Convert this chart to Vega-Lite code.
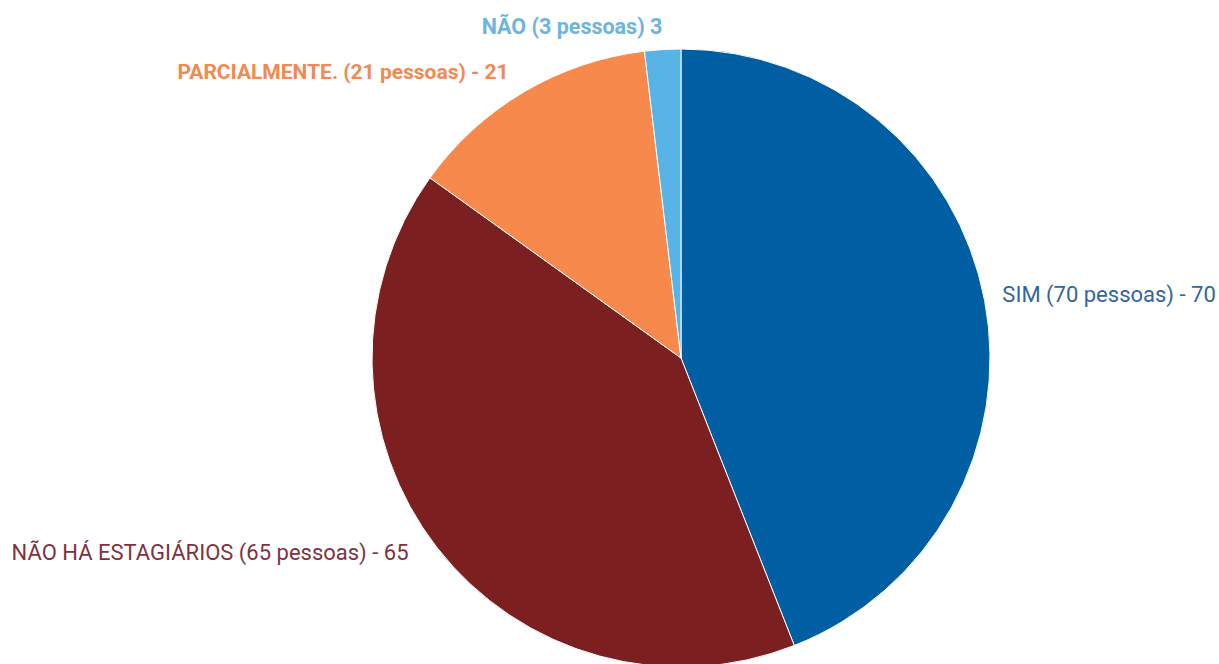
{
  "$schema": "https://vega.github.io/schema/vega-lite/v6.json",
  "width": 1076,
  "height": 716,
  "autosize": {"type": "none"},
  "padding": {"left": 143, "top": 0, "right": 0, "bottom": 0},
  "background": "white",
  "config": {"view": {"stroke": null}, "text": {"font": "Roboto", "fontSize": 22}},
  "data": {"values": [
    {"cat": "SIM", "label": "SIM (70 pessoas) - 70", "value": 70, "ord": 1},
    {"cat": "NÃO HÁ ESTAGIÁRIOS", "label": "NÃO HÁ ESTAGIÁRIOS (65 pessoas) - 65", "value": 65, "ord": 2},
    {"cat": "PARCIALMENTE.", "label": "PARCIALMENTE. (21 pessoas) - 21", "value": 21, "ord": 3},
    {"cat": "NÃO", "label": "NÃO (3 pessoas) 3", "value": 3, "ord": 4}
  ]},
  "encoding": {
    "theta": {"field": "value", "type": "quantitative", "stack": true},
    "order": {"field": "ord", "type": "quantitative"}
  },
  "layer": [
    {
      "mark": {"type": "arc", "outerRadius": 309, "stroke": "white", "strokeWidth": 1},
      "encoding": {
        "color": {"field": "cat", "type": "nominal", "legend": null,
          "scale": {"domain": ["SIM", "NÃO HÁ ESTAGIÁRIOS", "PARCIALMENTE.", "NÃO"],
                    "range": ["#005ea2", "#7b1f20", "#f6894b", "#58b3e6"]}}
      }
    },
    {
      "mark": {"type": "text", "radius": 322, "align": "left", "baseline": "middle", "dx": 5, "dy": -3, "color": "#33669c"},
      "encoding": {"text": {"condition": {"test": "datum.cat === 'SIM'", "field": "label"}, "value": ""}}
    },
    {
      "mark": {"type": "text", "radius": 315, "align": "right", "baseline": "middle", "dx": -24, "dy": 1, "color": "#7d3340"},
      "encoding": {"text": {"condition": {"test": "datum.cat === 'NÃO HÁ ESTAGIÁRIOS'", "field": "label"}, "value": ""}}
    },
    {
      "mark": {"type": "text", "radius": 331, "align": "right", "baseline": "middle", "dx": -4, "dy": 0, "color": "#f08a52", "fontWeight": "bold", "fontSize": 21},
      "encoding": {"text": {"condition": {"test": "datum.cat === 'PARCIALMENTE.'", "field": "label"}, "value": ""}}
    },
    {
      "mark": {"type": "text", "radius": 331, "align": "right", "baseline": "middle", "dx": 1, "dy": 0, "color": "#6db4e0", "fontWeight": "bold", "fontSize": 21.5},
      "encoding": {"text": {"condition": {"test": "datum.cat === 'NÃO'", "field": "label"}, "value": ""}}
    }
  ]
}
